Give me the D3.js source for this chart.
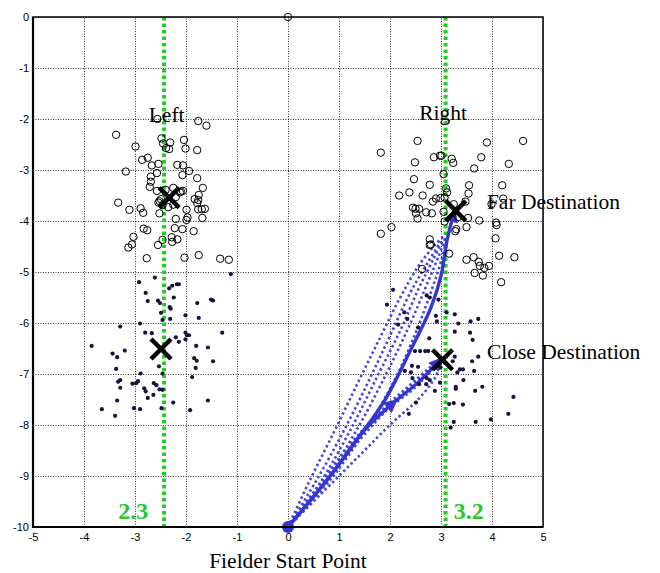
<!DOCTYPE html>
<html>
<head>
<meta charset="utf-8">
<script src="https://cdn.jsdelivr.net/npm/d3@7"></script>
<style>
  body { margin: 0; background: #fff; }
  svg { display: block; }
  .tick-label { font-family: "Liberation Sans", Arial, sans-serif; font-size: 11px; fill: #000; }
  .note { font-family: "Liberation Serif", "Times New Roman", serif; font-size: 21.5px; fill: #000; }
  .green-note { font-family: "Liberation Serif", "Times New Roman", serif; font-size: 24px; font-weight: bold; fill: #22cc22; }
</style>
</head>
<body>
<svg width="660" height="573"></svg>
<script>
const xTicks = [-5, -4, -3, -2, -1, 0, 1, 2, 3, 4, 5];
const yTicks = [0, -1, -2, -3, -4, -5, -6, -7, -8, -9, -10];

// open circles, left group
const leftCircles = [
  [-2.56,-2.00],[-1.76,-2.04],[-1.60,-2.13],[-3.37,-2.31],[-2.48,-2.38],[-2.45,-2.48],[-2.31,-2.46],
  [-2.39,-2.57],[-2.33,-2.59],[-2.04,-2.41],[-2.01,-2.58],[-1.78,-2.61],[-2.99,-2.54],[-2.86,-2.80],
  [-2.75,-2.76],[-2.67,-2.91],[-2.54,-2.88],[-2.17,-2.90],[-2.06,-2.91],[-2.07,-3.10],[-1.94,-3.02],
  [-2.57,-3.06],[-3.18,-3.03],[-2.69,-3.13],[-2.69,-3.23],[-2.71,-3.33],[-1.78,-3.16],[-2.25,-3.35],
  [-2.10,-3.42],[-2.06,-3.41],[-1.67,-3.35],[-1.75,-3.49],[-1.76,-3.59],[-1.78,-3.65],[-1.83,-3.57],
  [-3.33,-3.64],[-2.54,-3.64],[-2.49,-3.57],[-2.46,-3.69],[-2.35,-3.73],[-2.25,-3.68],[-1.99,-3.78],
  [-1.97,-3.93],[-1.99,-3.98],[-1.76,-3.77],[-1.69,-3.77],[-1.63,-3.76],[-1.68,-3.94],[-3.11,-3.78],
  [-2.89,-3.75],[-2.84,-3.84],[-2.52,-3.85],[-2.20,-3.96],[-2.22,-4.14],[-2.07,-4.16],[-1.85,-4.20],
  [-2.83,-4.15],[-2.76,-4.18],[-3.03,-4.31],[-3.06,-4.46],[-3.13,-4.52],[-2.55,-4.47],[-2.46,-4.37],
  [-2.28,-4.32],[-2.27,-4.41],[-2.17,-4.36],[-2.77,-4.73],[-2.03,-4.72],[-1.75,-4.67],[-1.33,-4.74],
  [-1.16,-4.76],[-2.57,-3.41],[-2.52,-3.61],[-2.40,-3.39],[-2.20,-3.53],[-2.12,-3.44]
];

// filled dots, left group
const leftDots = [
  [-1.12,-5.04],[-2.92,-5.20],[-2.61,-5.11],[-2.33,-5.32],[-2.27,-5.27],[-2.18,-5.24],[-2.14,-5.24],
  [-2.79,-5.41],[-2.75,-5.57],[-2.55,-5.56],[-2.51,-5.61],[-2.24,-5.50],[-2.32,-5.69],[-2.30,-5.72],
  [-2.49,-5.80],[-2.46,-5.94],[-2.31,-5.92],[-2.01,-5.85],[-1.78,-5.61],[-1.51,-5.54],[-1.47,-5.56],
  [-1.75,-5.90],[-1.29,-6.19],[-3.29,-6.07],[-2.90,-6.01],[-2.80,-6.19],[-2.67,-6.20],[-2.20,-6.28],
  [-2.14,-6.37],[-2.01,-6.19],[-1.98,-6.24],[-1.94,-6.24],[-2.01,-6.32],[-1.80,-6.45],[-1.57,-6.48],
  [-1.84,-6.69],[-1.79,-6.74],[-1.47,-6.75],[-1.81,-6.88],[-1.88,-7.06],[-3.85,-6.45],[-3.44,-6.60],
  [-3.35,-6.67],[-3.20,-6.54],[-3.37,-6.90],[-2.53,-6.85],[-2.46,-6.99],[-2.89,-6.99],[-3.33,-7.15],
  [-3.29,-7.12],[-3.29,-7.27],[-3.05,-7.19],[-2.98,-7.18],[-2.94,-7.14],[-2.82,-7.28],[-2.79,-7.34],
  [-2.63,-7.18],[-2.58,-7.22],[-2.52,-7.30],[-2.46,-7.31],[-2.64,-7.41],[-2.75,-7.47],[-3.35,-7.52],
  [-2.25,-7.56],[-1.57,-7.52],[-3.65,-7.69],[-3.39,-7.82],[-3.02,-7.67],[-2.90,-7.69],[-2.48,-7.67],
  [-1.92,-7.71]
];

// open circles, right group
const rightCircles = [
  [1.82,-2.66],[2.54,-2.43],[2.49,-2.85],[2.86,-2.75],[2.98,-2.72],[3.01,-2.72],[3.21,-2.78],
  [3.24,-2.86],[3.90,-2.46],[4.61,-2.43],[3.79,-2.75],[3.65,-2.97],[4.33,-2.88],[3.05,-3.08],
  [2.47,-3.18],[2.78,-3.29],[2.38,-3.44],[2.18,-3.50],[2.64,-3.50],[2.90,-3.56],[2.84,-3.62],
  [3.10,-3.36],[3.12,-3.44],[3.07,-3.54],[2.99,-3.55],[3.55,-3.30],[3.54,-3.46],[3.48,-3.62],
  [4.20,-3.30],[3.99,-3.67],[4.22,-3.56],[2.45,-3.74],[2.50,-3.76],[2.57,-3.76],[2.51,-3.85],
  [2.54,-3.95],[2.71,-3.83],[2.82,-3.85],[3.25,-3.67],[3.05,-3.82],[3.07,-4.01],[3.53,-3.94],
  [3.50,-4.12],[3.75,-3.99],[4.08,-4.03],[4.09,-4.08],[1.82,-4.25],[2.03,-4.12],[3.28,-4.20],
  [3.30,-4.16],[4.07,-4.34],[2.78,-4.36],[2.78,-4.47],[2.80,-4.46],[3.16,-4.64],[2.63,-4.94],
  [3.50,-4.76],[3.64,-4.71],[3.74,-4.80],[3.76,-4.88],[3.85,-4.92],[3.94,-4.88],[3.66,-5.02],
  [3.82,-5.07],[4.14,-4.68],[4.44,-4.71],[4.18,-5.20],[3.34,-3.92]
];

// filled dots, right group
const rightDots = [
  [2.06,-5.35],[1.94,-5.64],[2.28,-5.79],[2.34,-5.92],[2.16,-6.03],[2.72,-5.46],[2.78,-5.50],
  [2.95,-5.54],[2.55,-6.09],[2.77,-6.30],[2.90,-5.86],[2.92,-5.97],[3.11,-5.79],[3.27,-5.83],
  [3.34,-6.01],[3.27,-6.17],[3.58,-5.97],[3.73,-5.92],[3.57,-6.19],[3.62,-6.33],[3.73,-6.66],
  [3.61,-6.75],[3.43,-6.91],[3.44,-7.12],[3.65,-6.94],[3.81,-7.25],[3.67,-7.33],[3.29,-7.25],
  [3.29,-7.29],[3.16,-7.59],[3.25,-7.57],[3.43,-7.60],[4.42,-7.45],[4.32,-7.78],[3.98,-7.89],
  [3.68,-7.94],[3.25,-7.94],[3.19,-8.05],[2.37,-7.78],[2.51,-7.56],[2.88,-7.33],[2.98,-7.17],
  [2.49,-6.55],[2.59,-6.55],[2.69,-6.55],[2.75,-6.55],[2.43,-6.84],[2.55,-6.86],[2.41,-6.97],
  [2.44,-7.08],[2.29,-6.94],[2.57,-7.20],[2.71,-7.20],[2.78,-7.12],[2.72,-7.08],[2.89,-6.87],
  [2.99,-6.87],[3.27,-6.66],[3.23,-6.75],[3.37,-6.91],[3.32,-6.97]
];

const originPoint = [0, 0];
const startPoint = [0, -10];

// cluster centres (X marks)
const centres = [[-2.33,-3.54],[-2.49,-6.51],[3.29,-3.80],[3.03,-6.72]];

// vertical reference lines and their labels
const refLines = [-2.43, 3.09];
const refLabels = [{text: "2.3", x: -3.33, y: -9.84}, {text: "3.2", x: 3.25, y: -9.84}];

// solid trajectories
const farPath = [[0,-10],[0.82,-9.01],[1.35,-8.29],[1.90,-7.51],[2.39,-6.56],[2.81,-5.68],[3.01,-5.03],[3.12,-4.37],[3.27,-3.78]];
const closePathA = [[0,-10],[0.82,-9.01],[1.5,-8.1],[2.13,-7.51]];
const closePathB = [[2.13,-7.51],[2.60,-7.12],[3.01,-6.69]];

// dotted trajectories
const farDotted = [
  [[0,-10],[0.42,-9.1],[0.92,-8.1],[1.38,-7.15],[1.8,-6.3],[2.2,-5.5],[2.58,-4.85],[2.9,-4.45],[3.05,-4.3]],
  [[0,-10],[0.55,-9.1],[1.1,-8.1],[1.6,-7.1],[2.0,-6.25],[2.4,-5.4],[2.75,-4.8],[3.0,-4.4]],
  [[0,-10],[0.65,-9.1],[1.25,-8.05],[1.75,-7.05],[2.2,-6.15],[2.55,-5.35],[2.85,-4.75],[3.05,-4.35]],
  [[0,-10],[0.75,-9.05],[1.4,-8.0],[1.95,-6.95],[2.38,-6.05],[2.7,-5.3],[2.95,-4.7],[3.1,-4.3]],
  [[0,-10],[0.85,-9.05],[1.55,-8.05],[2.1,-7.1],[2.5,-6.2],[2.8,-5.4],[3.0,-4.8],[3.12,-4.35]]
];
const closeDotted = [
  [[0,-10],[0.75,-9.25],[1.45,-8.55],[2.05,-7.95],[2.55,-7.5],[2.88,-7.08],[3.0,-6.8]],
  [[0,-10],[0.75,-9.1],[1.4,-8.3],[1.95,-7.7],[2.45,-7.3],[2.8,-6.95],[2.98,-6.75]],
  [[0,-10],[0.6,-9.2],[1.2,-8.4],[1.8,-7.75],[2.35,-7.25],[2.75,-6.9],[2.95,-6.72]],
  [[0,-10],[0.8,-9.05],[1.45,-8.15],[2.05,-7.55],[2.5,-7.15],[2.85,-6.85]]
];

const labels = [
  {text: "Left", x: -2.38, y: -2.06, anchor: "middle"},
  {text: "Right", x: 3.04, y: -2.02, anchor: "middle"},
  {text: "Far Destination", x: 3.90, y: -3.76, anchor: "start"},
  {text: "Close Destination", x: 3.90, y: -6.71, anchor: "start"}
];

const margin = {top: 17, right: 117, bottom: 46, left: 33},
      width = 660 - margin.left - margin.right,
      height = 573 - margin.top - margin.bottom;

const blue = "#3535d0";

const svg = d3.select("svg")
  .append("g")
  .attr("transform", `translate(${margin.left},${margin.top})`);

const x = d3.scaleLinear().domain([-5, 5]).range([0, width]);
const y = d3.scaleLinear().domain([-10, 0]).range([height, 0]);

// arrow head
svg.append("defs").append("marker")
  .attr("id", "arrow")
  .attr("viewBox", "0 0 10 10")
  .attr("refX", 9).attr("refY", 5)
  .attr("markerWidth", 4.5).attr("markerHeight", 4)
  .attr("markerUnits", "strokeWidth")
  .attr("orient", "auto")
  .append("path")
  .attr("d", "M0,0 L10,5 L0,10 z")
  .attr("fill", blue);

// grid
svg.append("g")
  .attr("transform", `translate(0,${height})`)
  .call(d3.axisBottom(x).tickValues(xTicks).tickSize(-height).tickFormat(""))
  .call(g => g.select(".domain").remove())
  .selectAll("line")
  .attr("stroke", "#000").attr("stroke-width", 0.8).attr("stroke-dasharray", "1,1.5");

svg.append("g")
  .call(d3.axisLeft(y).tickValues(yTicks).tickSize(-width).tickFormat(""))
  .call(g => g.select(".domain").remove())
  .selectAll("line")
  .attr("stroke", "#000").attr("stroke-width", 0.8).attr("stroke-dasharray", "1,1.5");

// tick labels
svg.append("g")
  .attr("transform", `translate(0,${height})`)
  .call(d3.axisBottom(x).tickValues(xTicks).tickSize(0).tickPadding(6).tickFormat(d => String(d)))
  .call(g => g.select(".domain").remove())
  .selectAll("text").attr("class", "tick-label").attr("font-size", null).attr("font-family", null);

svg.append("g")
  .call(d3.axisLeft(y).tickValues(yTicks).tickSize(0).tickPadding(4).tickFormat(d => String(d)))
  .call(g => g.select(".domain").remove())
  .selectAll("text").attr("class", "tick-label").attr("font-size", null).attr("font-family", null);

// green reference lines
svg.selectAll(".ref")
  .data(refLines)
  .enter().append("line")
  .attr("x1", d => x(d)).attr("x2", d => x(d))
  .attr("y1", y(0)).attr("y2", y(-10))
  .attr("stroke", "#22cc22").attr("stroke-width", 4)
  .attr("stroke-dasharray", "3.5,3");

const line = d3.line().x(d => x(d[0])).y(d => y(d[1])).curve(d3.curveCatmullRom);

// dotted trajectories
svg.append("g")
  .selectAll("path")
  .data(farDotted.concat(closeDotted))
  .enter().append("path")
  .attr("d", line)
  .attr("fill", "none")
  .attr("stroke", "#4343dc")
  .attr("stroke-width", 2.6)
  .attr("stroke-dasharray", "2.4,2.8");

// solid trajectories
svg.append("g")
  .selectAll("path")
  .data([farPath, closePathA, closePathB])
  .enter().append("path")
  .attr("d", line)
  .attr("fill", "none")
  .attr("stroke", blue)
  .attr("stroke-width", 3.4)
  .attr("marker-end", "url(#arrow)");

// open circles
svg.append("g")
  .selectAll("circle")
  .data(leftCircles.concat(rightCircles, [originPoint]))
  .enter().append("circle")
  .attr("cx", d => x(d[0])).attr("cy", d => y(d[1]))
  .attr("r", 3.7)
  .attr("fill", "none")
  .attr("stroke", "#000")
  .attr("stroke-width", 1);

// dots
svg.append("g")
  .selectAll("circle")
  .data(leftDots.concat(rightDots))
  .enter().append("circle")
  .attr("cx", d => x(d[0])).attr("cy", d => y(d[1]))
  .attr("r", 2.1)
  .attr("fill", "#14143c");

// start marker
svg.append("circle")
  .attr("cx", x(startPoint[0])).attr("cy", y(startPoint[1]))
  .attr("r", 6)
  .attr("fill", blue);

// X marks
const xm = 10;
svg.append("g")
  .selectAll("path")
  .data(centres)
  .enter().append("path")
  .attr("d", d => {
    const cx = x(d[0]), cy = y(d[1]);
    return `M${cx-xm},${cy-xm}L${cx+xm},${cy+xm}M${cx-xm},${cy+xm}L${cx+xm},${cy-xm}`;
  })
  .attr("stroke", "#000")
  .attr("stroke-width", 4.5);

// text notes
svg.selectAll(".note")
  .data(labels)
  .enter().append("text")
  .attr("class", "note")
  .attr("x", d => x(d.x)).attr("y", d => y(d.y))
  .attr("text-anchor", d => d.anchor)
  .text(d => d.text);

svg.selectAll(".green-note")
  .data(refLabels)
  .enter().append("text")
  .attr("class", "green-note")
  .attr("x", d => x(d.x)).attr("y", d => y(d.y))
  .text(d => d.text);

// axis title
svg.append("text")
  .attr("class", "note")
  .attr("x", width / 2)
  .attr("y", height + 41)
  .attr("text-anchor", "middle")
  .text("Fielder Start Point");

// frame
svg.append("rect")
  .attr("width", width).attr("height", height)
  .attr("fill", "none")
  .attr("stroke", "#000")
  .attr("stroke-width", 1.5);
svg.append("path")
  .attr("d", `M0,0V${height}H${width}`)
  .attr("fill", "none")
  .attr("stroke", "#000")
  .attr("stroke-width", 2.2);
</script>
</body>
</html>
